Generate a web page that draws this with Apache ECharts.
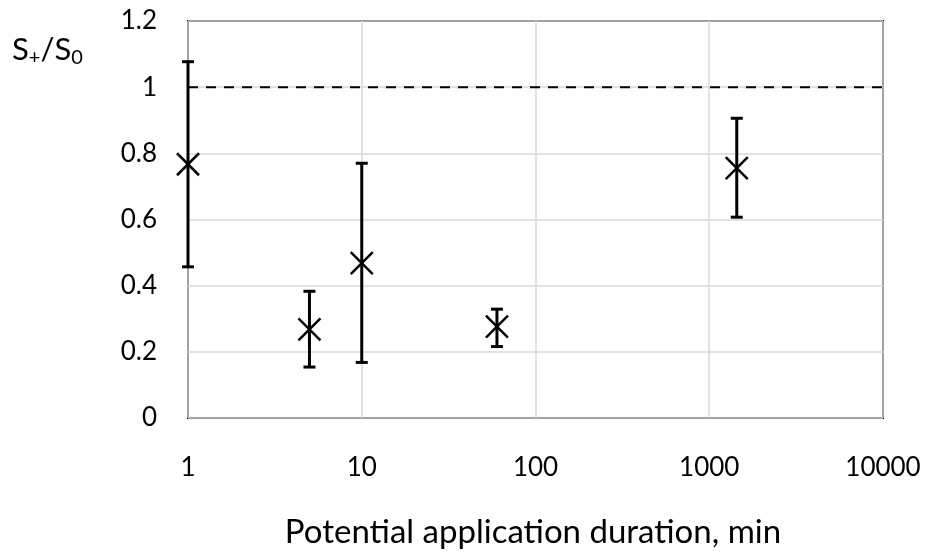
<!DOCTYPE html>
<html>
<head>
<meta charset="utf-8">
<script src="https://cdn.jsdelivr.net/npm/echarts@6/dist/echarts.min.js"></script>
<style>html,body{margin:0;padding:0;background:#fff}#c{width:927px;height:552px}</style>
</head>
<body>
<div id="c"></div>
<script>
// Data
var durations = [1, 5, 10, 60, 1440];
var ratios = [0.767, 0.268, 0.468, 0.276, 0.755];
var errLow = [0.457, 0.154, 0.168, 0.216, 0.607];
var errHigh = [1.077, 0.383, 0.770, 0.329, 0.906];
var refLineY = 1;
var xTicks = [1, 10, 100, 1000, 10000];
var yTicks = [0, 0.2, 0.4, 0.6, 0.8, 1, 1.2];
var xTitle = 'Potential application duration, min';

var FONT = 'Lato, "Open Sans", sans-serif';
var chart = echarts.init(document.getElementById('c'));

var pts = durations.map(function (d, i) { return [d, ratios[i], errLow[i], errHigh[i]]; });

chart.setOption({
  animation: false,
  grid: { left: 188, right: 44, top: 21, bottom: 134, show: true, borderColor: '#000', borderWidth: 2, backgroundColor: 'transparent' },
  xAxis: {
    type: 'log', logBase: 10, min: xTicks[0], max: xTicks[xTicks.length - 1],
    axisLine: { show: false }, axisTick: { show: false },
    splitLine: { show: true, lineStyle: { color: '#d9d9d9', width: 1.5 } },
    axisLabel: { fontFamily: FONT, fontSize: 26, color: '#000', margin: 37, formatter: function (v) { return String(v); } }
  },
  yAxis: {
    type: 'value', min: yTicks[0], max: yTicks[yTicks.length - 1], interval: 0.2,
    axisLine: { show: false }, axisTick: { show: false },
    splitLine: { show: true, lineStyle: { color: '#d9d9d9', width: 1.5 } },
    axisLabel: { fontFamily: FONT, fontSize: 26, color: '#000', margin: 31 }
  },
  graphic: [{
    type: 'text', left: 12, top: 34,
    style: {
      text: '{m|S}{s|+}{m|/S}{s|0}',
      rich: {
        m: { fontFamily: FONT, fontSize: 31, fill: '#000', color: '#000' },
        s: { fontFamily: FONT, fontSize: 20, fill: '#000', color: '#000', padding: [17, 0, 0, 0] }
      }
    }
  }, {
    type: 'text', x: 533, y: 532,
    style: { text: xTitle, fontFamily: FONT, fontSize: 33, fill: '#000', align: 'center', verticalAlign: 'middle' }
  }],
  series: [
    {
      type: 'line', data: [[xTicks[0], refLineY], [xTicks[xTicks.length - 1], refLineY]],
      symbol: 'none', lineStyle: { color: '#000', width: 2, type: [10, 8] }, z: 3
    },
    {
      type: 'custom', z: 5,
      data: pts,
      renderItem: function (params, api) {
        var c = api.coord([api.value(0), api.value(1)]);
        var lo = api.coord([api.value(0), api.value(2)]);
        var hi = api.coord([api.value(0), api.value(3)]);
        var cap = 6, m = 11;
        var st = { stroke: '#000', lineWidth: 3, fill: 'none' };
        var mk = { stroke: '#000', lineWidth: 2.5, fill: 'none' };
        return {
          type: 'group',
          children: [
            { type: 'line', shape: { x1: c[0], y1: hi[1], x2: c[0], y2: lo[1] }, style: st },
            { type: 'line', shape: { x1: c[0] - cap, y1: hi[1], x2: c[0] + cap, y2: hi[1] }, style: st },
            { type: 'line', shape: { x1: c[0] - cap, y1: lo[1], x2: c[0] + cap, y2: lo[1] }, style: st },
            { type: 'line', shape: { x1: c[0] - m, y1: c[1] - m, x2: c[0] + m, y2: c[1] + m }, style: mk },
            { type: 'line', shape: { x1: c[0] - m, y1: c[1] + m, x2: c[0] + m, y2: c[1] - m }, style: mk }
          ]
        };
      }
    }
  ]
});
</script>
</body>
</html>
